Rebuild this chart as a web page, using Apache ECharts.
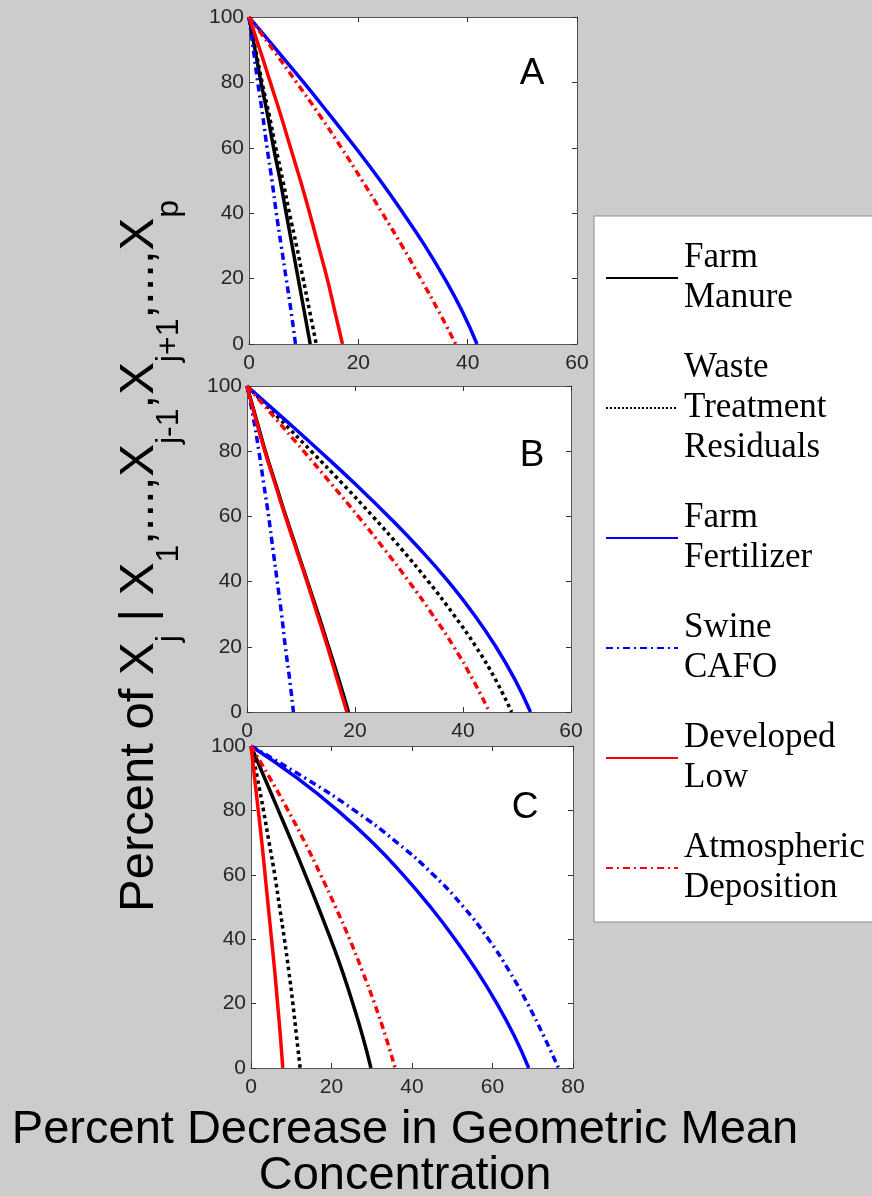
<!DOCTYPE html>
<html>
<head>
<meta charset="utf-8">
<script src="https://cdn.jsdelivr.net/npm/echarts@6/dist/echarts.min.js"></script>
<style>
  html, body { margin: 0; padding: 0; background: #cccccc; }
  #chart { width: 872px; height: 1196px; }
</style>
</head>
<body>
<div id="chart"></div>
<script>
// Remaining percent levels at which each curve is sampled
const yLevels = [100, 90, 80, 70, 60, 50, 40, 30, 20, 10, 0];
const panelLetters = ['A', 'B', 'C'];
const panelXMax = [60, 60, 80];

const sourceNames = [
  'Farm\nManure',
  'Waste\nTreatment\nResiduals',
  'Farm\nFertilizer',
  'Swine\nCAFO',
  'Developed\nLow',
  'Atmospheric\nDeposition'
];

// Percent decrease in geometric mean concentration, one value per level in yLevels
// Panel A
const aFarmManure  = [0, 1.1, 2.2, 3.4, 4.5, 5.7, 6.8, 7.9, 9.0, 10.1, 11.2];
const aWaste       = [0, 1.2, 2.4, 3.7, 4.9, 6.2, 7.4, 8.7, 9.9, 11.1, 12.3];
const aFertilizer  = [0, 5.0, 10.0, 14.8, 19.5, 24.0, 28.2, 32.2, 35.8, 39.0, 41.7];
const aSwine       = [0, 0.8, 1.6, 2.5, 3.3, 4.2, 5.0, 5.9, 6.8, 7.7, 8.5];
const aDeveloped   = [0, 2.0, 3.9, 5.8, 7.6, 9.4, 11.1, 12.7, 14.3, 15.7, 17.1];
const aAtmospheric = [0, 4.4, 8.7, 12.9, 16.9, 20.7, 24.4, 28.0, 31.4, 34.7, 37.8];
// Panel B
const bFarmManure  = [0, 1.7, 3.4, 5.3, 7.2, 9.2, 11.2, 13.2, 15.1, 17.0, 18.8];
const bWaste       = [0, 6.0, 11.9, 17.7, 23.3, 28.6, 33.6, 38.2, 42.4, 46.0, 49.0];
const bFertilizer  = [0, 6.8, 13.5, 20.0, 26.2, 32.0, 37.3, 42.0, 46.1, 49.6, 52.5];
const bSwine       = [0, 1.2, 2.2, 3.1, 4.0, 4.8, 5.6, 6.4, 7.1, 7.9, 8.6];
const bDeveloped   = [0, 1.6, 3.3, 5.2, 7.1, 9.1, 11.1, 13.0, 14.9, 16.7, 18.5];
const bAtmospheric = [0, 5.3, 10.5, 15.6, 20.6, 25.4, 30.0, 34.3, 38.3, 41.8, 44.9];
// Panel C
const cFarmManure  = [0, 3.4, 6.8, 10.2, 13.5, 16.7, 19.8, 22.7, 25.3, 27.7, 29.8];
const cWaste       = [0, 1.6, 3.1, 4.5, 5.9, 7.1, 8.3, 9.4, 10.4, 11.3, 12.2];
const cFertilizer  = [0, 11.5, 21.5, 30.2, 37.8, 44.6, 50.7, 56.2, 61.1, 65.4, 69.0];
const cSwine       = [0, 13.5, 25.7, 36.3, 45.3, 52.8, 59.0, 64.2, 68.7, 72.7, 76.4];
const cDeveloped   = [0, 0.9, 1.8, 2.7, 3.5, 4.3, 5.1, 5.9, 6.6, 7.3, 7.9];
const cAtmospheric = [0, 4.7, 9.2, 13.4, 17.3, 21.0, 24.5, 27.7, 30.7, 33.4, 35.8];

const panels = [
  [aFarmManure, aWaste, aFertilizer, aSwine, aDeveloped, aAtmospheric],
  [bFarmManure, bWaste, bFertilizer, bSwine, bDeveloped, bAtmospheric],
  [cFarmManure, cWaste, cFertilizer, cSwine, cDeveloped, cAtmospheric]
];

// Line appearance per source
const lineStyles = [
  { color: '#000000', width: 3.5, type: 'solid' },
  { color: '#000000', width: 3.5, type: 'dotted' },
  { color: '#0000ff', width: 3.5, type: 'solid' },
  { color: '#0000ff', width: 3.5, type: [7, 4, 2, 4] },
  { color: '#ff0000', width: 3.5, type: 'solid' },
  { color: '#ff0000', width: 3.5, type: [7, 4, 2, 4] }
];

const grids = [
  { left: 249, top: 17,  width: 328, height: 327 },
  { left: 247, top: 386, width: 324, height: 326 },
  { left: 251, top: 746, width: 322, height: 322 }
];

const sansFont = '"Liberation Sans", Arial, sans-serif';
const serifFont = '"Liberation Serif", "Times New Roman", serif';
const axisColor = '#555555';

const xAxes = [], yAxes = [], series = [];
grids.forEach(function (g, i) {
  const common = {
    gridIndex: i, type: 'value', min: 0, interval: 20,
    axisLine: { show: true, onZero: false, lineStyle: { color: axisColor, width: 1 } },
    axisTick: { show: true, inside: true, length: 5, lineStyle: { color: '#333333', width: 1 } },
    splitLine: { show: false }
  };
  const labelStyle = { fontFamily: sansFont, fontSize: 21, color: '#262626' };
  xAxes.push(Object.assign({}, common, {
    position: 'bottom', max: panelXMax[i],
    axisLabel: Object.assign({ margin: 9 }, labelStyle)
  }));
  xAxes.push(Object.assign({}, common, {
    position: 'top', max: panelXMax[i], axisLabel: { show: false }
  }));
  yAxes.push(Object.assign({}, common, {
    position: 'left', max: 100,
    axisLabel: Object.assign({ margin: 5 }, labelStyle)
  }));
  yAxes.push(Object.assign({}, common, {
    position: 'right', max: 100, axisLabel: { show: false }
  }));

  panels[i].forEach(function (xs, k) {
    const st = lineStyles[k];
    series.push({
      name: sourceNames[k],
      type: 'line',
      xAxisIndex: 2 * i,
      yAxisIndex: 2 * i,
      data: xs.map(function (x, j) { return [x, yLevels[j]]; }),
      smooth: 0.5,
      symbol: 'none',
      clip: true,
      lineStyle: { color: st.color, width: st.width, type: st.type },
      itemStyle: { color: st.color },
      emphasis: { disabled: true },
      animation: false
    });
  });
});

const yTitle = '{m|Percent of X}{s|j}{m| | X}{s|1}{m|,...,X}{s|j-1}{m|,X}{s|j+1}{m|,...,X}{s|p}';

const graphics = [
  {
    type: 'text', x: 139, y: 556, rotation: Math.PI / 2,
    style: {
      text: yTitle, align: 'center', verticalAlign: 'middle', fill: '#000',
      rich: {
        m: { fontFamily: sansFont, fontSize: 49, fill: '#000' },
        s: { fontFamily: sansFont, fontSize: 32, fill: '#000', padding: [60, 0, 0, 0] }
      }
    }
  },
  {
    type: 'text', x: 405, y: 1153,
    style: {
      text: 'Percent Decrease in Geometric Mean\nConcentration',
      align: 'center', verticalAlign: 'middle', lineHeight: 46,
      font: '47px ' + sansFont, fill: '#000'
    }
  }
];
const letterPos = [[532, 74], [532, 456], [525, 808]];
panelLetters.forEach(function (L, i) {
  graphics.push({
    type: 'text', x: letterPos[i][0], y: letterPos[i][1],
    style: { text: L, align: 'center', verticalAlign: 'middle', font: '37px ' + sansFont, fill: '#000' }
  });
});

const chart = echarts.init(document.getElementById('chart'), null, { renderer: 'canvas' });
chart.setOption({
  backgroundColor: '#cccccc',
  animation: false,
  grid: grids.map(function (g) {
    return Object.assign({ show: true, backgroundColor: '#ffffff', borderWidth: 0, containLabel: false }, g);
  }),
  xAxis: xAxes,
  yAxis: yAxes,
  series: series,
  legend: {
    orient: 'vertical',
    left: 594, top: 216,
    padding: [22, 60, 14, 11],
    backgroundColor: '#ffffff',
    borderColor: '#8c8c8c', borderWidth: 1,
    itemWidth: 72, itemHeight: 14, itemGap: 30,
    selectedMode: false,
    data: sourceNames,
    itemStyle: { opacity: 0 },
    textStyle: { fontFamily: serifFont, fontSize: 35, lineHeight: 40, color: '#000', padding: [0, 0, 0, 1] }
  },
  graphic: graphics
});
</script>
</body>
</html>
